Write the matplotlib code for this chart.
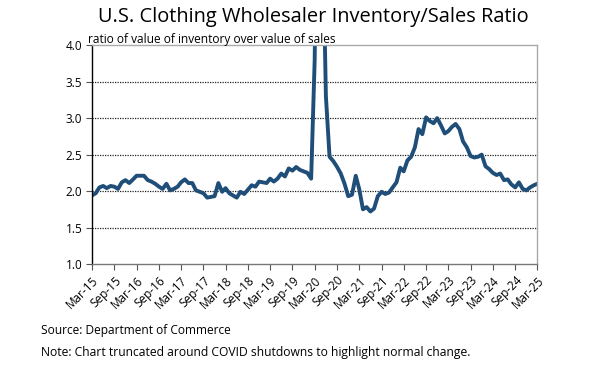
import numpy as np
import pandas as pd
import matplotlib
matplotlib.use("Agg")
import matplotlib.pyplot as plt

plt.rcParams['font.family'] = ['Open Sans', 'DejaVu Sans']

# monthly inventory/sales ratio, Mar-2015 .. Mar-2025
dates = pd.date_range("2015-03-01", "2025-03-01", freq="MS")
ratio = [
    1.94, 1.97, 2.05, 2.07, 2.04, 2.07, 2.06, 2.03, 2.12, 2.15,
    2.11, 2.16, 2.21, 2.21, 2.21, 2.15, 2.13, 2.10, 2.06, 2.03,
    2.10, 2.01, 2.03, 2.06, 2.12, 2.16, 2.11, 2.11, 2.01, 1.99,
    1.97, 1.91, 1.92, 1.93, 2.11, 1.99, 2.04, 1.97, 1.94, 1.91,
    1.99, 1.96, 2.02, 2.08, 2.06, 2.13, 2.12, 2.11, 2.17, 2.13,
    2.17, 2.24, 2.20, 2.31, 2.28, 2.33, 2.29, 2.27, 2.25, 2.17,
    3.80, 8.00, 6.00, 3.30, 2.47, 2.41, 2.33, 2.24, 2.10, 1.93,
    1.95, 2.21, 2.03, 1.75, 1.78, 1.72, 1.76, 1.93, 1.99, 1.96,
    1.98, 2.05, 2.12, 2.32, 2.27, 2.42, 2.47, 2.60, 2.85, 2.78,
    3.01, 2.96, 2.93, 3.00, 2.90, 2.79, 2.82, 2.88, 2.92, 2.85,
    2.68, 2.60, 2.48, 2.46, 2.47, 2.50, 2.34, 2.30, 2.25, 2.22,
    2.24, 2.15, 2.16, 2.09, 2.05, 2.12, 2.03, 2.01, 2.05, 2.08,
    2.10,
]
tick_dates = pd.date_range("2015-03-01", "2025-03-01", freq="6MS")
tick_labels = [d.strftime("%b-%y") for d in tick_dates]
y_ticks = [1.0, 1.5, 2.0, 2.5, 3.0, 3.5, 4.0]

fig = plt.figure(figsize=(5.97, 3.86), dpi=100)
ax = fig.add_axes([0.154, 0.316, 0.746, 0.567])

ax.plot(dates, ratio, color="#1F4E79", linewidth=2.8, solid_joinstyle="round")

ax.set_ylim(1.0, 4.0)
ax.set_xlim(dates[0], dates[-1])
ax.set_yticks(y_ticks)
ax.set_yticklabels([f"{v:.1f}" for v in y_ticks], fontsize=8.5)
ax.set_xticks(tick_dates)
ax.set_xticklabels(tick_labels, rotation=45, ha="right", rotation_mode="anchor", fontsize=8.5)
ax.tick_params(axis="both", length=4, width=0.8, color="#555555", pad=3)

for v in y_ticks[1:-1]:
    ax.axhline(v, color="#222222", linestyle=(0, (1, 1)), linewidth=0.9, zorder=0)

ax.spines["left"].set_color("black")
ax.spines["bottom"].set_color("#777777")
ax.spines["top"].set_color("#aaaaaa")
ax.spines["right"].set_color("#aaaaaa")
for s in ax.spines.values():
    s.set_linewidth(1.0)

fig.text(0.524, 0.955, "U.S. Clothing Wholesaler Inventory/Sales Ratio",
         ha="center", va="center", fontsize=14.4)
fig.text(0.147, 0.897, "ratio of value of inventory over value of sales",
         ha="left", va="center", fontsize=8.6)
fig.text(0.068, 0.145, "Source: Department of Commerce", ha="left", va="center", fontsize=8.6)
fig.text(0.068, 0.088, "Note: Chart truncated around COVID shutdowns to highlight normal change.",
         ha="left", va="center", fontsize=8.7)

fig.savefig("out.png", dpi=100)
